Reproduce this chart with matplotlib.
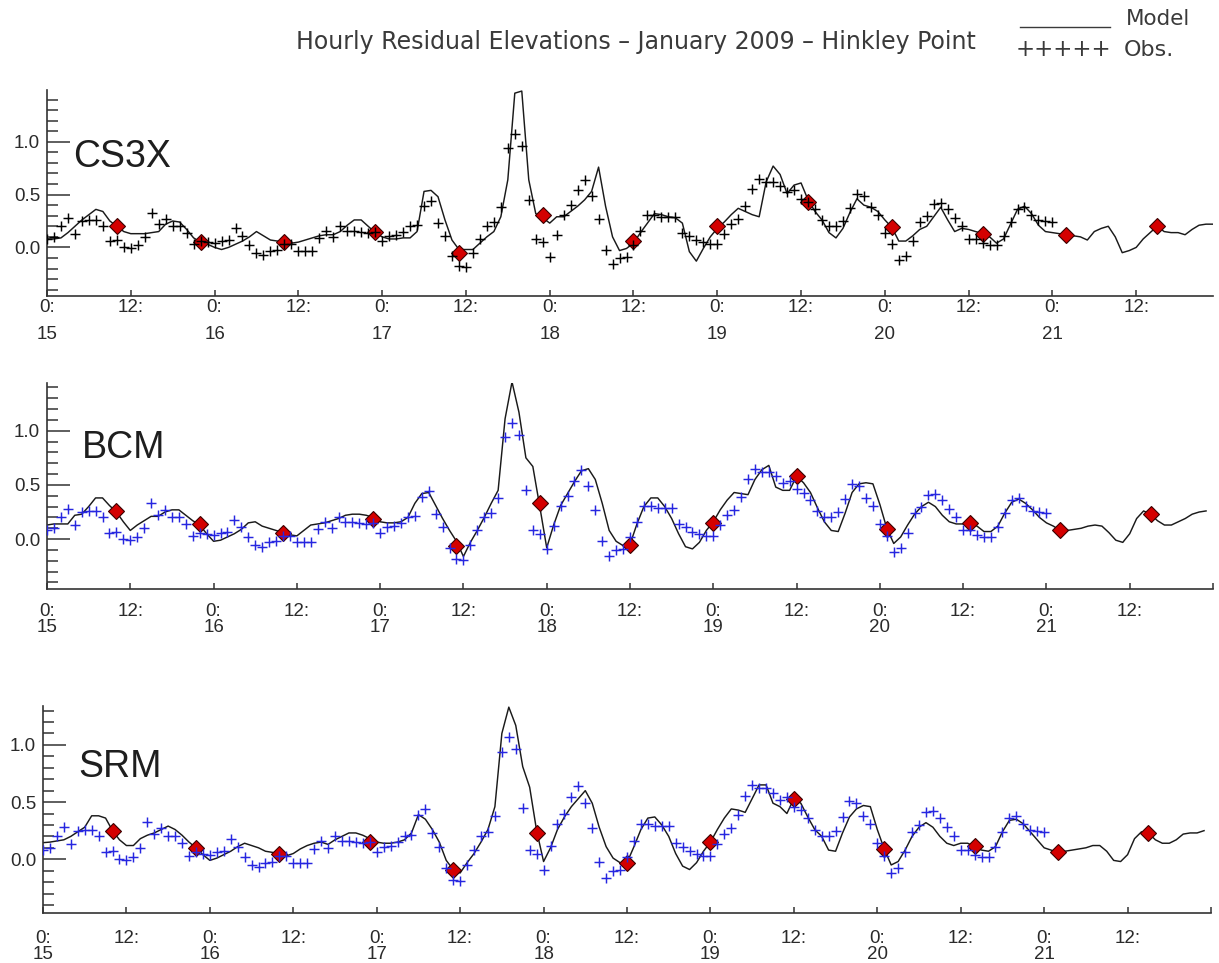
import matplotlib
matplotlib.use('Agg')
import matplotlib.pyplot as plt
import numpy as np
from matplotlib.ticker import MultipleLocator, FixedLocator
from matplotlib.lines import Line2D

# ---------------- data ----------------
model_hours = list(range(168))
obs_hours = list(range(145))

obs = [0.08, 0.10, 0.20, 0.28, 0.13, 0.25, 0.26, 0.26, 0.20, 0.06,
       0.07, 0.00, -0.01, 0.02, 0.10, 0.33, 0.22, 0.27, 0.20, 0.20,
       0.14, 0.03, 0.06, 0.05, 0.04, 0.06, 0.07, 0.18, 0.11, 0.02,
       -0.05, -0.07, -0.03, -0.02, 0.03, 0.03, -0.03, -0.03, -0.03, 0.09,
       0.16, 0.10, 0.20, 0.16, 0.16, 0.15, 0.14, 0.15, 0.06, 0.11,
       0.12, 0.15, 0.20, 0.21, 0.39, 0.44, 0.23, 0.11, -0.08, -0.18,
       -0.19, -0.05, 0.08, 0.20, 0.24, 0.38, 0.94, 1.07, 0.96, 0.45,
       0.08, 0.05, -0.09, 0.12, 0.31, 0.40, 0.54, 0.64, 0.49, 0.27,
       -0.02, -0.16, -0.10, -0.09, 0.02, 0.16, 0.31, 0.31, 0.29, 0.29,
       0.29, 0.14, 0.11, 0.07, 0.05, 0.03, 0.03, 0.13, 0.22, 0.27,
       0.39, 0.55, 0.65, 0.62, 0.62, 0.58, 0.52, 0.54, 0.46, 0.43,
       0.36, 0.26, 0.20, 0.20, 0.25, 0.37, 0.51, 0.49, 0.38, 0.31,
       0.14, 0.03, -0.12, -0.08, 0.06, 0.24, 0.30, 0.41, 0.42, 0.36,
       0.28, 0.20, 0.08, 0.08, 0.04, 0.02, 0.02, 0.11, 0.24, 0.36,
       0.38, 0.31, 0.26, 0.25, 0.24]

model_cs3x = [0.08, 0.08, 0.09, 0.14, 0.20, 0.26, 0.31, 0.36, 0.34, 0.25,
              0.20, 0.15, 0.13, 0.13, 0.13, 0.14, 0.15, 0.22, 0.25, 0.24,
              0.17, 0.09, 0.05, 0.03, 0.00, -0.02, 0.00, 0.03, 0.06, 0.10,
              0.15, 0.11, 0.07, 0.06, 0.05, 0.04, 0.05, 0.07, 0.09, 0.11,
              0.12, 0.12, 0.15, 0.21, 0.26, 0.26, 0.20, 0.14, 0.10, 0.08,
              0.08, 0.09, 0.09, 0.15, 0.53, 0.54, 0.48, 0.26, 0.07, -0.02,
              -0.02, -0.02, 0.04, 0.10, 0.15, 0.29, 0.64, 1.46, 1.48, 0.64,
              0.32, 0.28, 0.23, 0.29, 0.29, 0.34, 0.39, 0.45, 0.53, 0.76,
              0.39, 0.10, -0.03, -0.01, 0.04, 0.14, 0.23, 0.32, 0.31, 0.29,
              0.28, 0.23, -0.04, -0.13, -0.01, 0.10, 0.18, 0.24, 0.31, 0.37,
              0.34, 0.31, 0.29, 0.62, 0.77, 0.69, 0.51, 0.59, 0.61, 0.45,
              0.34, 0.26, 0.14, 0.09, 0.18, 0.33, 0.46, 0.40, 0.38, 0.34,
              0.26, 0.19, 0.06, 0.06, 0.11, 0.17, 0.20, 0.29, 0.38, 0.26,
              0.15, 0.18, 0.17, 0.15, 0.13, 0.10, 0.04, 0.08, 0.22, 0.36,
              0.39, 0.32, 0.21, 0.15, 0.14, 0.13, 0.12, 0.11, 0.10, 0.07,
              0.15, 0.18, 0.20, 0.10, -0.05, -0.03, 0.00, 0.08, 0.14, 0.20,
              0.15, 0.14, 0.14, 0.12, 0.17, 0.21, 0.22, 0.22]

model_bcm = [0.13, 0.14, 0.14, 0.14, 0.22, 0.23, 0.30, 0.38, 0.38, 0.31,
             0.25, 0.16, 0.08, 0.13, 0.17, 0.21, 0.21, 0.25, 0.27, 0.27,
             0.22, 0.17, 0.13, 0.05, -0.02, -0.01, 0.02, 0.05, 0.09, 0.15,
             0.16, 0.12, 0.10, 0.08, 0.06, 0.04, 0.03, 0.08, 0.13, 0.14,
             0.15, 0.17, 0.19, 0.22, 0.23, 0.23, 0.22, 0.20, 0.16, 0.15,
             0.15, 0.16, 0.20, 0.33, 0.42, 0.43, 0.31, 0.19, 0.08, -0.02,
             -0.16, -0.03, 0.08, 0.20, 0.33, 0.45, 1.11, 1.45, 1.17, 0.75,
             0.67, 0.30, -0.08, 0.13, 0.31, 0.42, 0.53, 0.63, 0.65, 0.55,
             0.33, 0.08, -0.02, -0.06, -0.05, 0.14, 0.30, 0.38, 0.38, 0.30,
             0.19, 0.05, -0.07, -0.09, -0.03, 0.08, 0.16, 0.27, 0.36, 0.43,
             0.42, 0.41, 0.55, 0.64, 0.68, 0.48, 0.45, 0.45, 0.58, 0.52,
             0.43, 0.29, 0.16, 0.08, 0.07, 0.24, 0.43, 0.51, 0.52, 0.51,
             0.32, 0.10, -0.04, 0.02, 0.13, 0.23, 0.30, 0.34, 0.30, 0.22,
             0.16, 0.14, 0.14, 0.15, 0.12, 0.07, 0.07, 0.12, 0.24, 0.34,
             0.37, 0.33, 0.27, 0.20, 0.15, 0.12, 0.08, 0.08, 0.09, 0.10,
             0.12, 0.13, 0.12, 0.06, -0.01, -0.03, 0.05, 0.19, 0.26, 0.23,
             0.17, 0.13, 0.13, 0.16, 0.19, 0.23, 0.25, 0.26]

model_srm = [0.145, 0.15, 0.16, 0.17, 0.20, 0.24, 0.28, 0.38, 0.38, 0.36,
             0.25, 0.17, 0.12, 0.12, 0.18, 0.21, 0.23, 0.26, 0.29, 0.26,
             0.21, 0.15, 0.10, 0.04, -0.01, 0.01, 0.04, 0.07, 0.11, 0.14,
             0.12, 0.10, 0.07, 0.06, 0.05, 0.03, 0.05, 0.09, 0.12, 0.14,
             0.15, 0.13, 0.17, 0.20, 0.23, 0.23, 0.21, 0.18, 0.15, 0.14,
             0.14, 0.15, 0.17, 0.23, 0.39, 0.35, 0.26, 0.15, -0.01, -0.09,
             -0.12, -0.03, 0.05, 0.15, 0.26, 0.46, 1.10, 1.33, 1.17, 0.81,
             0.63, 0.25, -0.02, 0.10, 0.26, 0.37, 0.46, 0.53, 0.60, 0.49,
             0.28, 0.11, 0.01, -0.03, -0.03, 0.11, 0.26, 0.36, 0.37, 0.30,
             0.20, 0.05, -0.06, -0.09, -0.03, 0.07, 0.15, 0.26, 0.36, 0.44,
             0.43, 0.41, 0.53, 0.65, 0.65, 0.49, 0.46, 0.40, 0.53, 0.49,
             0.37, 0.26, 0.20, 0.08, 0.07, 0.23, 0.37, 0.44, 0.47, 0.46,
             0.26, 0.09, -0.05, -0.02, 0.08, 0.20, 0.28, 0.32, 0.28, 0.20,
             0.14, 0.12, 0.14, 0.14, 0.11, 0.08, 0.07, 0.11, 0.24, 0.34,
             0.35, 0.31, 0.24, 0.17, 0.10, 0.08, 0.06, 0.07, 0.08, 0.09,
             0.10, 0.12, 0.12, 0.07, -0.01, -0.02, 0.04, 0.18, 0.24, 0.23,
             0.17, 0.14, 0.14, 0.17, 0.22, 0.23, 0.23, 0.25]

hw_cs3x_hours = [10, 22, 34, 47, 59, 71, 84, 96, 109, 121, 134, 146, 159]
hw_cs3x_vals = [0.20, 0.05, 0.05, 0.15, -0.05, 0.31, 0.06, 0.20, 0.43, 0.19, 0.13, 0.12, 0.20]
hw_bcm_hours = [10, 22, 34, 47, 59, 71, 84, 96, 108, 121, 133, 146, 159]
hw_bcm_vals = [0.26, 0.14, 0.06, 0.19, -0.06, 0.33, -0.05, 0.15, 0.58, 0.09, 0.15, 0.08, 0.23]
hw_srm_hours = [10, 22, 34, 47, 59, 71, 84, 96, 108, 121, 134, 146, 159]
hw_srm_vals = [0.25, 0.10, 0.05, 0.15, -0.09, 0.23, -0.03, 0.15, 0.53, 0.09, 0.12, 0.06, 0.23]

panel_names = ["CS3X", "BCM", "SRM"]
first_day = 15
title = "Hourly Residual Elevations \u2013 January 2009 \u2013 Hinkley Point"

# ---------------- layout ----------------
W, H = 1219, 963
fig = plt.figure(figsize=(W / 100, H / 100), dpi=100)
fig.patch.set_facecolor('white')

def rect(l, r, t, b):
    return [l / W, 1 - b / H, (r - l) / W, (b - t) / H]

panels = [
    dict(name=panel_names[0], model=model_cs3x, hwh=hw_cs3x_hours, hwv=hw_cs3x_vals,
         rect=rect(47, 1213, 90, 296), ylim=(-0.46, 1.49), xmax=167,
         obs_color='black', lab=(0.022, 0.675), lsp=1.75, xpad=2),
    dict(name=panel_names[1], model=model_bcm, hwh=hw_bcm_hours, hwv=hw_bcm_vals,
         rect=rect(47, 1213, 383, 589), ylim=(-0.46, 1.44), xmax=168,
         obs_color='#2626e0', lab=(0.030, 0.684), lsp=0.95, xpad=10),
    dict(name=panel_names[2], model=model_srm, hwh=hw_srm_hours, hwv=hw_srm_vals,
         rect=rect(43, 1211, 706, 913), ylim=(-0.47, 1.34), xmax=168,
         obs_color='#2626e0', lab=(0.030, 0.705), lsp=0.95, xpad=12),
]

txt_col = '#2a2a2a'
axis_col = '#333333'
tick_font = 'Liberation Sans'

for p in panels:
    ax = fig.add_axes(p['rect'])
    ax.plot(model_hours, p['model'], color='#1a1a1a', lw=1.05, zorder=2)
    ax.plot(p['hwh'], p['hwv'], linestyle='none', marker='D', ms=8.4,
            mfc='#d40000', mec='#3a0000', mew=0.8, zorder=3)
    ax.plot(obs_hours, obs, linestyle='none', marker='+', ms=7, mew=1.05,
            color=p['obs_color'], zorder=4)

    ax.set_xlim(0, p['xmax'])
    ax.set_ylim(*p['ylim'])
    for s in ['top', 'right']:
        ax.spines[s].set_visible(False)
    for s in ['left', 'bottom']:
        ax.spines[s].set_color(axis_col)
        ax.spines[s].set_linewidth(1.2)

    xt = list(range(0, p['xmax'] + 1, 12))
    xl = []
    for t in xt:
        if t % 24 == 0:
            xl.append("0:\n%d" % (first_day + t // 24) if t < 168 else "")
        else:
            xl.append("12:")
    ax.xaxis.set_major_locator(FixedLocator(xt))
    ax.set_xticklabels(xl, fontsize=13.5, family=tick_font, color=txt_col,
                       linespacing=p['lsp'])
    ax.tick_params(axis='x', direction='in', length=4, width=1.1,
                   color=axis_col, pad=p['xpad'])

    ax.yaxis.set_major_locator(FixedLocator([0.0, 0.5, 1.0]))
    ax.yaxis.set_minor_locator(MultipleLocator(0.1))
    ax.set_yticklabels(['0.0', '0.5', '1.0'], fontsize=13.5, family=tick_font,
                       color=txt_col)
    ax.tick_params(axis='y', which='major', direction='in', length=16.5,
                   width=1.1, color=axis_col, pad=5)
    ax.tick_params(axis='y', which='minor', direction='in', length=8,
                   width=1.1, color=axis_col)

    ax.text(p['lab'][0], p['lab'][1], p['name'], transform=ax.transAxes,
            fontsize=27, family=tick_font, color='#1e1e1e',
            ha='left', va='center')

# title and legend
fig.text(636 / W, 1 - 42 / H, title, ha='center', va='center',
         fontsize=17, family='DejaVu Sans', color='#3a3a3a')
fig.add_artist(Line2D([1020 / W, 1110 / W], [1 - 27 / H, 1 - 27 / H],
                      transform=fig.transFigure, color='#3a3a3a', lw=1.0))
fig.text(1126 / W, 1 - 19 / H, "Model", ha='left', va='center',
         fontsize=15.5, family='DejaVu Sans', color='#3a3a3a')
fig.text(1016 / W, 1 - 50 / H, "+++++", ha='left', va='center',
         fontsize=16.5, family='DejaVu Sans', color='#3a3a3a')
fig.text(1124 / W, 1 - 50 / H, "Obs.", ha='left', va='center',
         fontsize=16, family='DejaVu Sans', color='#3a3a3a')

fig.savefig('out.png', dpi=100, facecolor='white')
